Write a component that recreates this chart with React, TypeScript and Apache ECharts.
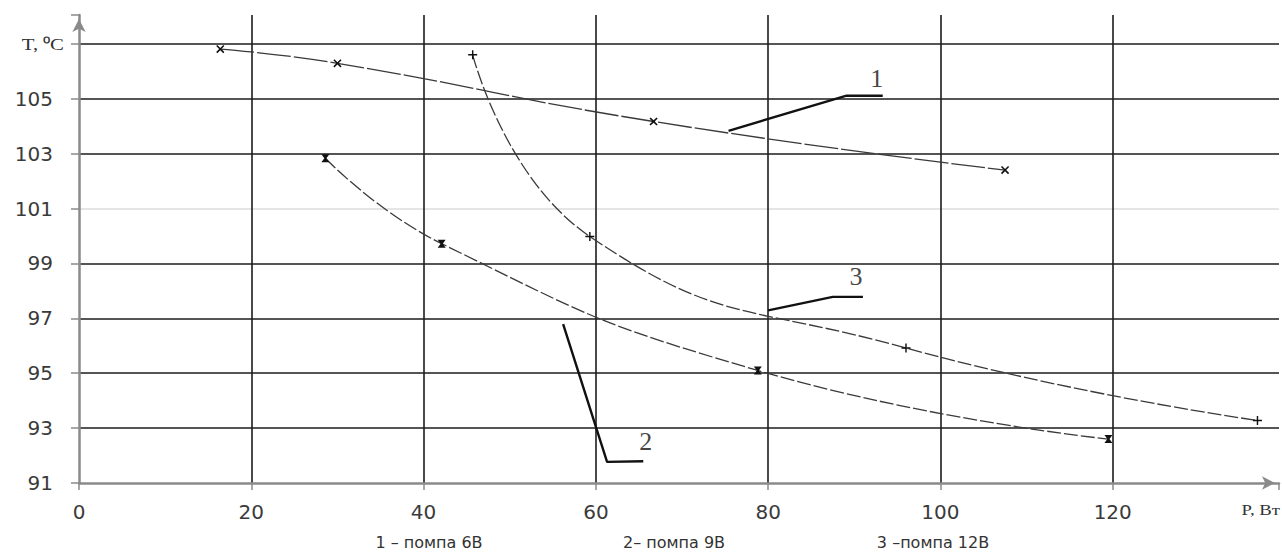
import React, { useEffect, useRef } from 'react';
import * as echarts from 'echarts';

// Axis ticks / labels
const xTicks = [0, 20, 40, 60, 80, 100, 120];
const yTicks = [91, 93, 95, 97, 99, 101, 103, 105, 107];
const yTitle = 'T, ⁰C';
const xTitle = 'P, Вт';
const legendItems = ['1 – помпа 6В', '2– помпа 9В', '3 –помпа 12В'];

// Series (P, Вт ; T, °C)
const series1 = [[16.4, 106.81], [30.0, 106.29], [66.7, 104.17], [107.5, 102.4]];
const series2 = [[28.6, 102.83], [42.1, 99.72], [78.8, 95.1], [119.5, 92.6]];
const series3 = [[45.7, 106.6], [59.3, 99.98], [96.0, 95.92], [136.8, 93.28]];

// Leader lines and curve numbers (data coordinates)
const leader1 = [[75.4, 103.83], [89.1, 105.11], [93.3, 105.11]];
const leader2 = [[56.2, 96.79], [61.3, 91.77], [65.5, 91.79]];
const leader3 = [[80.0, 97.29], [87.5, 97.78], [91.0, 97.78]];
const curveNames = [
  { name: '1', value: [92.6, 105.75] },
  { name: '2', value: [65.8, 92.52] },
  { name: '3', value: [90.2, 98.53] },
];

const X_MAX = 139.3;
const Y_MIN = 91;
const Y_MAX = 108.05;

const PLUS = 'path://M4.2,0H5.8V4.2H10V5.8H5.8V10H4.2V5.8H0V4.2H4.2Z';
const BOWTIE = 'path://M0,0H10L6.3,5L10,10H0L3.7,5Z';

export default function App() {
  const ref = useRef<HTMLDivElement>(null);
  useEffect(() => {
    if (!ref.current) return;
    const chart = echarts.init(ref.current, undefined, { renderer: 'svg' });
    const gridBlack = '#1c1c1c';
    const ySplitColors = yTicks.map((v, i) =>
      i === 0 ? 'rgba(0,0,0,0)' : v === 101 ? '#dcdcdc' : gridBlack
    );
    ySplitColors.push('rgba(0,0,0,0)');
    const xSplitColors = xTicks.map((v, i) => (i === 0 ? 'rgba(0,0,0,0)' : gridBlack));
    xSplitColors.push('rgba(0,0,0,0)');

    const curveStyle = (dash: number[]) => ({
      color: '#3a3a3a',
      width: 1.3,
      type: dash,
    });

    const leaderSeries = (data: number[][]) => ({
      type: 'line',
      data,
      yAxisIndex: 0,
      symbol: 'none',
      smooth: false,
      lineStyle: { color: '#111', width: 2.4 },
      z: 4,
      silent: true,
    });

    const tickFont = { color: '#3a3a3a', fontFamily: 'DejaVu Sans', fontSize: 20 };

    chart.setOption({
      animation: false,
      backgroundColor: '#fff',
      grid: { left: 79, right: 3, top: 15, bottom: 71, containLabel: false },
      xAxis: {
        type: 'value',
        min: 0,
        max: X_MAX,
        interval: 20,
        axisLine: {
          show: true,
          lineStyle: { color: '#8a8a8a', width: 2.5 },
          symbol: ['none', 'arrow'],
          symbolSize: [10, 13],
          symbolOffset: [0, -4],
        },
        axisTick: { show: true, length: 7, lineStyle: { color: '#8a8a8a', width: 1.5 } },
        axisLabel: {
          margin: 19,
          ...tickFont,
          formatter: (v: number) => (xTicks.includes(v) ? String(v) : ''),
        },
        splitLine: { show: true, lineStyle: { color: xSplitColors, width: 1.6 } },
      },
      yAxis: [
        {
          type: 'value',
          min: Y_MIN,
          max: Y_MAX,
          show: false,
          splitLine: { show: false },
        },
        {
          type: 'value',
          position: 'left',
          min: 0,
          max: Y_MAX - Y_MIN,
          interval: 2,
          axisLine: {
            show: true,
            lineStyle: { color: '#8a8a8a', width: 2.5 },
            symbol: ['none', 'arrow'],
            symbolSize: [10, 13],
            symbolOffset: [0, -4],
          },
          axisTick: { show: true, length: 8, lineStyle: { color: '#8a8a8a', width: 1.5 } },
          axisLabel: {
            margin: 26,
            ...tickFont,
            formatter: (v: number) => {
              const t = Math.round(v + Y_MIN);
              return yTicks.includes(t) && t < 107 ? String(t) : '';
            },
          },
          splitLine: { show: true, lineStyle: { color: ySplitColors, width: 1.6 } },
        },
      ],
      series: [
        {
          name: '1',
          type: 'line',
          data: series1,
          yAxisIndex: 0,
          smooth: 0.5,
          symbol: PLUS,
          symbolRotate: 45,
          symbolSize: 10,
          itemStyle: { color: '#111' },
          lineStyle: curveStyle([34, 3]),
          z: 3,
        },
        {
          name: '2',
          type: 'line',
          data: series2,
          yAxisIndex: 0,
          smooth: 0.5,
          symbol: BOWTIE,
          symbolSize: 8,
          itemStyle: { color: '#111' },
          lineStyle: curveStyle([14, 3]),
          z: 3,
        },
        {
          name: '3',
          type: 'line',
          data: series3,
          yAxisIndex: 0,
          smooth: 0.5,
          symbol: PLUS,
          symbolSize: 9,
          itemStyle: { color: '#111' },
          lineStyle: curveStyle([14, 3]),
          z: 3,
        },
        leaderSeries(leader1),
        leaderSeries(leader2),
        leaderSeries(leader3),
        {
          type: 'scatter',
          data: curveNames,
          yAxisIndex: 0,
          symbolSize: 1,
          itemStyle: { color: 'rgba(0,0,0,0)' },
          label: {
            show: true,
            position: 'inside',
            formatter: (p: any) => p.name,
            fontFamily: 'Liberation Serif',
            fontSize: 26,
            color: '#111',
          },
          z: 5,
          silent: true,
        },
      ],
      graphic: [
        {
          type: 'text',
          x: 64,
          y: 44,
          scaleX: 1.3,
          style: {
            text: yTitle,
            font: '16px "Liberation Serif"',
            fill: '#333',
            textAlign: 'right',
            textVerticalAlign: 'middle',
          },
        },
        {
          type: 'text',
          x: 1280,
          y: 510,
          scaleX: 1.25,
          style: {
            text: xTitle,
            font: '15px "Liberation Serif"',
            fill: '#333',
            textAlign: 'right',
            textVerticalAlign: 'middle',
          },
        },
        ...legendItems.map((t, i) => ({
          type: 'text',
          x: [429, 674, 933][i],
          y: 542,
          style: {
            text: t,
            font: '16px "DejaVu Sans"',
            fill: '#333',
            textAlign: 'center',
            textVerticalAlign: 'middle',
          },
        })),
      ],
    });
    return () => chart.dispose();
  }, []);
  return (
    <div
      ref={ref}
      style={{ position: 'fixed', left: 0, top: 0, width: 1282, height: 554, background: '#fff' }}
    />
  );
}
